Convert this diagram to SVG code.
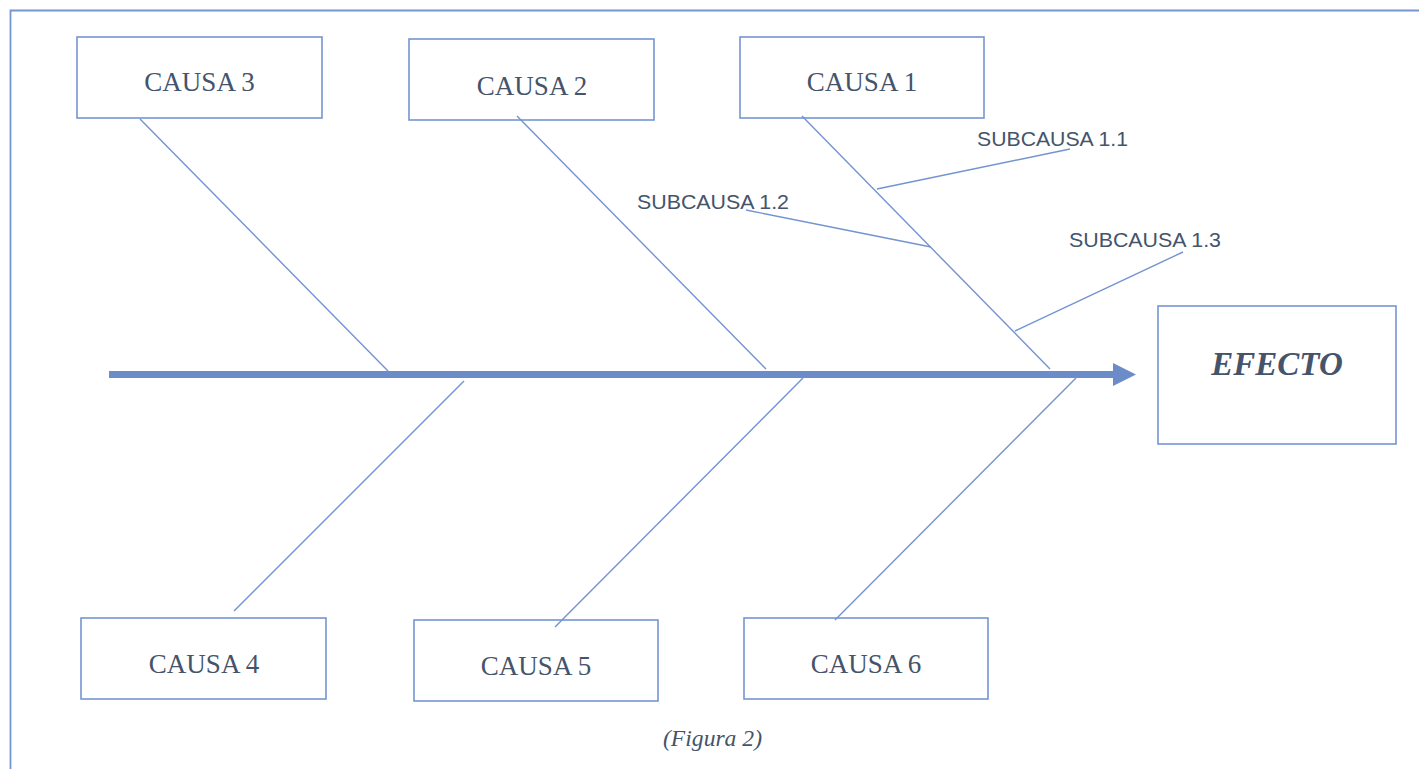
<svg xmlns="http://www.w3.org/2000/svg" width="1419" height="769" viewBox="0 0 1419 769">
<defs>
<style>
.box{fill:#ffffff;stroke:#7595d3;stroke-width:1.6}
.bone{stroke:#7393d1;stroke-width:1.4;fill:none}
.cause{font-family:"Liberation Serif",serif;font-size:27px;fill:#44546a;text-anchor:middle}
.sub{font-family:"Liberation Sans",Arial,sans-serif;font-size:21px;fill:#44546a}
.effect{font-family:"Liberation Serif",serif;font-size:33px;font-weight:bold;font-style:italic;fill:#44546a;text-anchor:middle}
.caption{font-family:"Liberation Serif",serif;font-size:23px;font-style:italic;fill:#44546a}
</style>
</defs>
<rect width="1419" height="769" fill="#ffffff"/>
<path d="M10.5 769 V10.5 H1419" fill="none" stroke="#7595d3" stroke-width="1.8"/>
<g id="causa3"><rect class="box" x="77" y="37" width="245" height="81"/><text class="cause" x="199.5" y="91">CAUSA 3</text></g>
<g id="causa2"><rect class="box" x="409" y="39" width="245" height="81"/><text class="cause" x="532" y="95">CAUSA 2</text></g>
<g id="causa1"><rect class="box" x="740" y="37" width="244" height="81"/><text class="cause" x="862" y="91">CAUSA 1</text></g>
<g id="causa4"><rect class="box" x="81" y="618" width="245" height="81"/><text class="cause" x="204" y="673">CAUSA 4</text></g>
<g id="causa5"><rect class="box" x="414" y="620" width="244" height="81"/><text class="cause" x="536" y="675">CAUSA 5</text></g>
<g id="causa6"><rect class="box" x="744" y="618" width="244" height="81"/><text class="cause" x="866" y="673">CAUSA 6</text></g>
<g id="efecto"><rect class="box" x="1158" y="306" width="238" height="138"/><text class="effect" x="1277" y="375">EFECTO</text></g>
<g id="subcausa11"><text class="sub" x="977" y="146" textLength="151" lengthAdjust="spacingAndGlyphs">SUBCAUSA 1.1</text></g>
<g id="subcausa12"><text class="sub" x="637" y="209" textLength="152" lengthAdjust="spacingAndGlyphs">SUBCAUSA 1.2</text></g>
<g id="subcausa13"><text class="sub" x="1069" y="247" textLength="152" lengthAdjust="spacingAndGlyphs">SUBCAUSA 1.3</text></g>
<g id="caption"><text class="caption" x="663" y="746" textLength="99" lengthAdjust="spacingAndGlyphs">(Figura 2)</text></g>
<g id="connectors">
<line x1="109" y1="374.5" x2="1115" y2="374.5" stroke="#6b8bc9" stroke-width="7"/>
<polygon points="1113,363 1136,374.5 1113,386" fill="#6b8bc9"/>
<line class="bone" x1="140" y1="119" x2="388" y2="371"/>
<line class="bone" x1="517" y1="116" x2="766" y2="369"/>
<line class="bone" x1="802" y1="116" x2="1050" y2="369"/>
<line class="bone" x1="464" y1="381" x2="234" y2="611"/>
<line class="bone" x1="803" y1="378" x2="555" y2="627"/>
<line class="bone" x1="1076" y1="378" x2="835" y2="620"/>
<line class="bone" x1="877" y1="189" x2="1070" y2="149"/>
<line class="bone" x1="746" y1="210" x2="931" y2="247"/>
<line class="bone" x1="1015" y1="331" x2="1183" y2="252"/>
</g>
</svg>
